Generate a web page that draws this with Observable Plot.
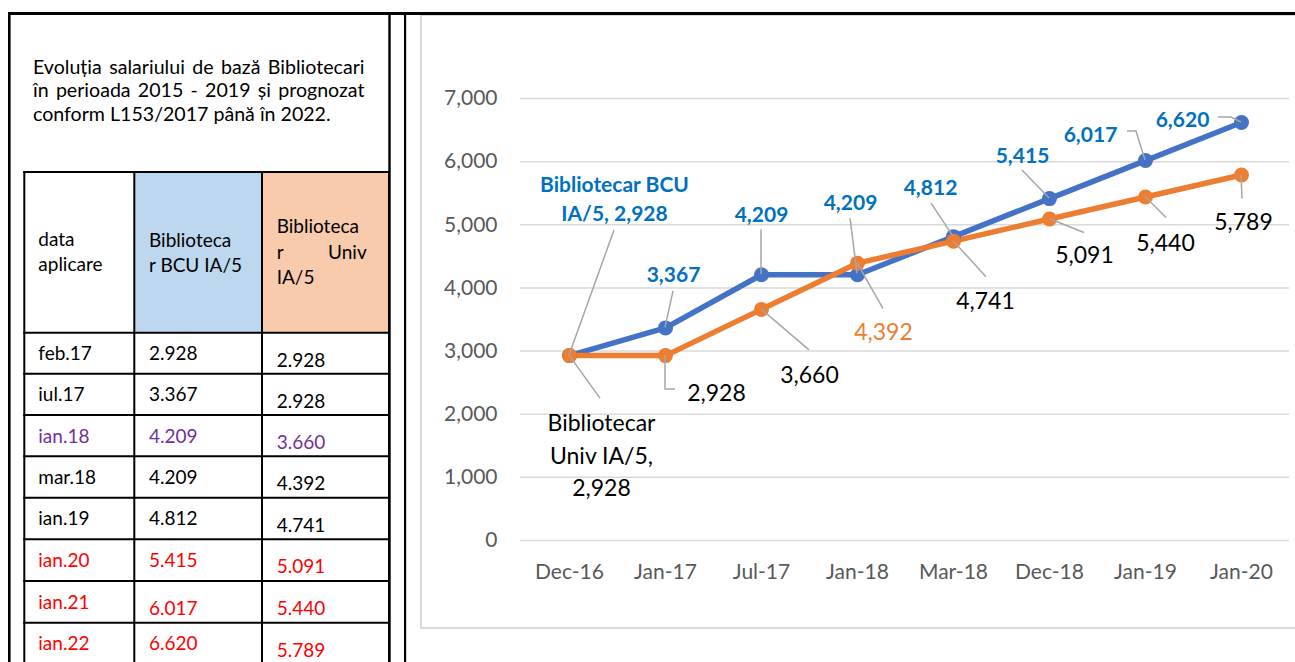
<!DOCTYPE html>
<html><head><meta charset="utf-8">
<script src="https://cdn.jsdelivr.net/npm/d3@7"></script>
<script src="https://cdn.jsdelivr.net/npm/@observablehq/plot@0.6"></script>
<style>
html,body{margin:0;padding:0;width:1295px;height:662px;overflow:hidden;background:#fff;font-family:Lato,sans-serif}
#bg{position:absolute;left:0;top:0}
#chart{position:absolute;left:421px;top:15px}
</style></head><body>
<svg id="bg" width="1295" height="662"></svg>
<div id="chart"></div>
<script>
// ---------- data ----------
const dates = ["Dec-16","Jan-17","Jul-17","Jan-18","Mar-18","Dec-18","Jan-19","Jan-20"];
const bcu   = [2928,3367,4209,4209,4812,5415,6017,6620];
const univ  = [2928,2928,3660,4392,4741,5091,5440,5789];
const seriesNames = ["Bibliotecar BCU IA/5","Bibliotecar Univ IA/5"];
const yTicks = [0,1000,2000,3000,4000,5000,6000,7000];

const titleLines = ["Evoluția salariului de bază Bibliotecari","în perioada 2015 - 2019 și prognozat","conform L153/2017 până în 2022."];
const headerCol1 = ["data","aplicare"];
const headerCol2 = ["Biblioteca","r BCU IA/5"];
const headerCol3 = ["Biblioteca",["r","Univ"],"IA/5"];
const tableDates = ["feb.17","iul.17","ian.18","mar.18","ian.19","ian.20","ian.21","ian.22"];
const tableBcu   = ["2.928","3.367","4.209","4.209","4.812","5.415","6.017","6.620"];
const tableUniv  = ["2.928","2.928","3.660","4.392","4.741","5.091","5.440","5.789"];
const rowGroup   = ["base","base","jan18","base","base","future","future","future"];

// ---------- styles / layout ----------
const groupColor = {base:"#000000", jan18:"#7030A0", future:"#FF0000"};
const blue = "#4472C4", orange = "#ED7D31", labelBlue = "#0070C0", leaderGray = "#A6A6A6";
const fmt = d3.format(",");

// label wrapping & pixel offsets (relative to each point)
const bcuText = (v,i) => i===0 ? "Bibliotecar BCU\nIA/5, " + fmt(v) : fmt(v);
const univText = (v,i) => i===0 ? "Bibliotecar\nUniv IA/5,\n" + fmt(v) : fmt(v);
const bcuLabelOff = [[45,-158.5],[8,-55.5],[0,-62.4],[-7,-74.4],[-23,-51.4],[-27,-45.3],[-55,-28.3],[-59,-4.3]];
const bcuLeaders = [[[45,-125],[0,0]],[[8,-36.5],[0,0]],[[0,-45],[0,0]],[[-7,-56],[0,-1]],[[-22,-33],[0,0]],[[-27,-28],[0,0]],[[-18,-29],[-9,-29],[0,0]],[[-23,-5],[-10,-5],[0,0]]];
const univLabelOff = [[32,97.5],[51,35],[48,63],[26,66],[32,57],[35,34],[20,44],[2,45]];
const univLeaders = [[[0,0],[31,43]],[[0,0],[0,34],[10,34]],[[0,0],[48,41]],[[0,0],[26,46]],[[0,0],[33,36]],[[0,0],[35,14]],[[0,0],[21,21]],[[0,0],[1,24]]];
const univLabelColor = (i) => i===3 ? orange : "#000000";

// ---------- left panel ----------
const bg = d3.select("#bg");
// chart frame
bg.append("rect").attr("x",421).attr("y",15).attr("width",900).attr("height",613)
  .attr("fill","none").attr("stroke","#D9D9D9").attr("stroke-width",2);
// page lines
bg.append("rect").attr("x",8).attr("y",12).attr("width",1287).attr("height",3).attr("fill","#000");
[[8,2.6],[388.3,2.4],[404,2.2]].forEach(([x,w]) =>
  bg.append("rect").attr("x",x).attr("y",12).attr("width",w).attr("height",650).attr("fill","#000"));

// title, justified
function justified(line, y, x0, x1, size) {
  const words = line.split(" ");
  const g = bg.append("g");
  const nodes = words.map(w => g.append("text").attr("y",y).attr("font-size",size).attr("fill","#000").text(w));
  const widths = nodes.map(n => n.node().getComputedTextLength());
  const gap = (x1 - x0 - d3.sum(widths)) / (words.length - 1);
  let x = x0;
  nodes.forEach((n,i) => { n.attr("x",x); x += widths[i] + gap; });
}
const titleSize = 19.6;
justified(titleLines[0], 74, 33, 364.5, titleSize);
justified(titleLines[1], 97.3, 33, 364.5, titleSize);
bg.append("text").attr("x",33).attr("y",120.5).attr("font-size",titleSize).attr("fill","#000").text(titleLines[2]);

// table
const colX = [24.3,134.3,262,389];
const rowLines = [172,332.7,373.7,415,456.3,497.7,539.3,581,622.7];
bg.append("rect").attr("x",colX[1]).attr("y",rowLines[0]).attr("width",colX[2]-colX[1]).attr("height",rowLines[1]-rowLines[0]).attr("fill","#BDD7EE");
bg.append("rect").attr("x",colX[2]).attr("y",rowLines[0]).attr("width",colX[3]-colX[2]).attr("height",rowLines[1]-rowLines[0]).attr("fill","#F8CBAD");
rowLines.forEach(y => bg.append("line").attr("x1",colX[0]-1).attr("x2",colX[3]).attr("y1",y).attr("y2",y).attr("stroke","#000").attr("stroke-width",2));
colX.forEach(x => bg.append("line").attr("x1",x).attr("x2",x).attr("y1",rowLines[0]-1).attr("y2",662).attr("stroke","#000").attr("stroke-width",2));

const tf = 19;
const tx = (x,y,s,fill,anchor) => bg.append("text").attr("x",x).attr("y",y).attr("font-size",tf)
  .attr("fill",fill||"#000").attr("text-anchor",anchor||"start").text(s);
headerCol1.forEach((s,i) => tx(38.3, 246 + 25*i, s));
headerCol2.forEach((s,i) => tx(149, 246.7 + 25*i, s));
headerCol3.forEach((s,i) => {
  const y = 233.3 + 25.5*i;
  if (Array.isArray(s)) { tx(276.7, y, s[0]); tx(366.7, y, s[1], null, "end"); }
  else tx(276.7, y, s);
});
tableDates.forEach((d,i) => {
  const top = rowLines[i+1];
  const c = groupColor[rowGroup[i]];
  tx(38.3, top + 27.7, d, c);
  tx(149, top + (i===6 ? 34 : 27.7), tableBcu[i], c);
  tx(276.7, top + 34, tableUniv[i], c);
});

// ---------- chart ----------
const rows = [];
dates.forEach((d,i) => { rows.push({date:d, value:bcu[i], series:seriesNames[0], i});
                         rows.push({date:d, value:univ[i], series:seriesNames[1], i}); });
const bcuRows = rows.filter(r => r.series === seriesNames[0]);
const univRows = rows.filter(r => r.series === seriesNames[1]);

function leaderMark(index, scales) {
  const g = d3.create("svg:g").attr("stroke", leaderGray).attr("stroke-width",1.5).attr("fill","none");
  const draw = (data, leaders) => data.forEach((r,i) => {
    const px = scales.x(r.date), py = scales.y(r.value);
    g.append("path").attr("d", d3.line()(leaders[i].map(([dx,dy]) => [px+dx, py+dy])));
  });
  draw(bcuRows, bcuLeaders);
  draw(univRows, univLeaders);
  return g.node();
}

const labelMarks = [];
bcuRows.forEach((r,i) => labelMarks.push(Plot.text([r], {
  x:"date", y:"value", text: d => bcuText(d.value, d.i), dx: bcuLabelOff[i][0], dy: bcuLabelOff[i][1],
  fill: labelBlue, fontWeight: "bold", fontSize: 21, lineHeight: 1.38
})));
univRows.forEach((r,i) => labelMarks.push(Plot.text([r], {
  x:"date", y:"value", text: d => univText(d.value, d.i), dx: univLabelOff[i][0], dy: univLabelOff[i][1],
  fill: univLabelColor(i), fontSize: 23, lineHeight: 1.41
})));

const chart = Plot.plot({
  width: 874, height: 613,
  marginLeft: 99, marginRight: 6, marginTop: 83, marginBottom: 88,
  style: {fontFamily: "Lato, sans-serif", fontSize: "21px", color: "#595959", background: "transparent", overflow: "visible"},
  x: {type: "point", domain: dates, padding: 0.5, label: null},
  y: {domain: [0,7000], label: null},
  marks: [
    Plot.gridY(yTicks, {stroke: "#D9D9D9", strokeOpacity: 1, strokeWidth: 1.5}),
    Plot.axisY(yTicks, {tickSize: 0, tickPadding: 23, tickFormat: fmt, label: null}),
    Plot.axisX({tickSize: 0, tickPadding: 24, label: null}),
    Plot.line(bcuRows, {x: "date", y: "value", stroke: blue, strokeWidth: 5.5}),
    Plot.line(univRows, {x: "date", y: "value", stroke: orange, strokeWidth: 5.5}),
    Plot.dot(bcuRows, {x: "date", y: "value", fill: blue, r: 7.5}),
    Plot.dot(univRows, {x: "date", y: "value", fill: orange, r: 7.5}),
    leaderMark,
    ...labelMarks
  ]
});
document.getElementById("chart").appendChild(chart);
</script>
</body></html>
